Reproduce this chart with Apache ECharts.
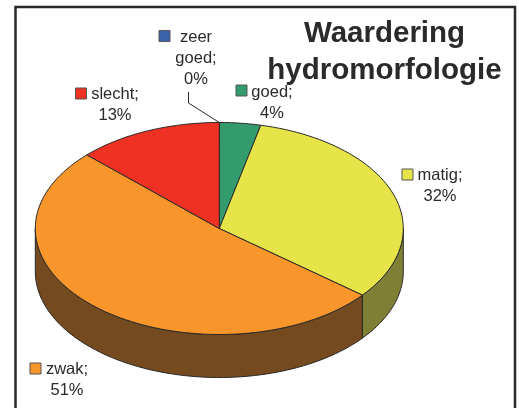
<!DOCTYPE html>
<html>
<head>
<meta charset="utf-8">
<style>
  html, body { margin: 0; padding: 0; background: #fff; }
  #chart { width: 519px; height: 408px; }
</style>
<script src="https://cdn.jsdelivr.net/npm/echarts@6/dist/echarts.min.js"></script>
</head>
<body>
<div id="chart"></div>
<script>
// Data (slice shares; labels show them rounded)
const categories = ['zeer goed', 'goed', 'matig', 'zwak', 'slecht'];
const shares = [0.02, 3.6, 32.2, 51.4, 12.78];
const topColors = ['#3a62ad', '#339b6e', '#e6e448', '#f8952b', '#ef3124'];
const sideColors = ['#1d3156', '#1a4e37', '#7f7f35', '#744a1e', '#781912'];

// Look of the tilted pie
const center = [219.3, 228.5];
const radiusX = 184;
const radiusY = 106;
const depth = 43;
const ink = '#2b2a29';
const labelFont = '16.5px "Liberation Sans", Arial, sans-serif';

// Where each label sits: legend key corner, text centre, text top
const labelPlaces = [
    { key: [159, 30.5], x: 196, y: 27 },
    { key: [236, 85], x: 272, y: 82 },
    { key: [402, 169], x: 440, y: 165 },
    { key: [30, 363], x: 67, y: 359 },
    { key: [75.5, 88], x: 115, y: 84 }
];

const total = shares.reduce((sum, v) => sum + v, 0);

// Point on the ellipse, angle in degrees clockwise from the top
function ellipsePoint(deg, drop) {
    const rad = deg * Math.PI / 180;
    return [
        center[0] + radiusX * Math.sin(rad),
        center[1] - radiusY * Math.cos(rad) + (drop || 0)
    ];
}

function arcPoints(from, to, drop) {
    const points = [];
    const steps = Math.max(2, Math.ceil(Math.abs(to - from) / 2));
    for (let i = 0; i <= steps; i++) {
        points.push(ellipsePoint(from + (to - from) * i / steps, drop));
    }
    return points;
}

function renderSlice(params, api) {
    const i = params.dataIndex;
    const start = shares.slice(0, i).reduce((sum, v) => sum + v, 0) / total * 360;
    const end = start + api.value(0) / total * 360;
    const place = labelPlaces[i];
    const children = [];

    // Only the front half of the rim can be seen
    const wallFrom = Math.max(start, 90);
    const wallTo = Math.min(end, 270);
    if (wallTo > wallFrom) {
        children.push({
            type: 'polygon',
            shape: { points: arcPoints(wallFrom, wallTo, 0).concat(arcPoints(wallTo, wallFrom, depth)) },
            style: { fill: sideColors[i], stroke: ink, lineWidth: 1 }
        });
    }

    children.push({
        type: 'polygon',
        shape: { points: [center].concat(arcPoints(start, end, 0)) },
        style: { fill: topColors[i], stroke: ink, lineWidth: 1 }
    });

    children.push({
        type: 'rect',
        shape: { x: place.key[0], y: place.key[1], width: 11, height: 11 },
        style: { fill: topColors[i], stroke: '#555', lineWidth: 1 }
    });

    children.push({
        type: 'text',
        style: {
            text: categories[i].replace(' ', '\n') + ';\n' + Math.round(api.value(0)) + '%',
            x: place.x,
            y: place.y,
            font: labelFont,
            lineHeight: 21,
            fill: ink,
            align: 'center',
            verticalAlign: 'top'
        }
    });

    return { type: 'group', children: children };
}

const myChart = echarts.init(document.getElementById('chart'));

myChart.setOption({
    animation: false,
    title: {
        text: 'Waardering\nhydromorfologie',
        left: 379.5,
        top: 10,
        textAlign: 'center',
        textStyle: {
            fontFamily: '"Liberation Sans", Arial, sans-serif',
            fontSize: 29.5,
            fontWeight: 'bold',
            color: ink,
            lineHeight: 37
        }
    },
    graphic: [
        {
            type: 'rect',
            z: -1,
            shape: { x: 15.5, y: 7, width: 499.5, height: 430 },
            style: { fill: '#fff', stroke: ink, lineWidth: 2.5 }
        },
        {
            // leader line of the 0% slice
            type: 'polyline',
            shape: { points: [[188.5, 92], [188.5, 103], ellipsePoint(0)] },
            style: { fill: null, stroke: ink, lineWidth: 1 }
        }
    ],
    series: [
        {
            type: 'custom',
            coordinateSystem: 'none',
            silent: true,
            clip: false,
            renderItem: renderSlice,
            data: shares.map((v, i) => ({ name: categories[i], value: [v] }))
        }
    ]
});
</script>
</body>
</html>
